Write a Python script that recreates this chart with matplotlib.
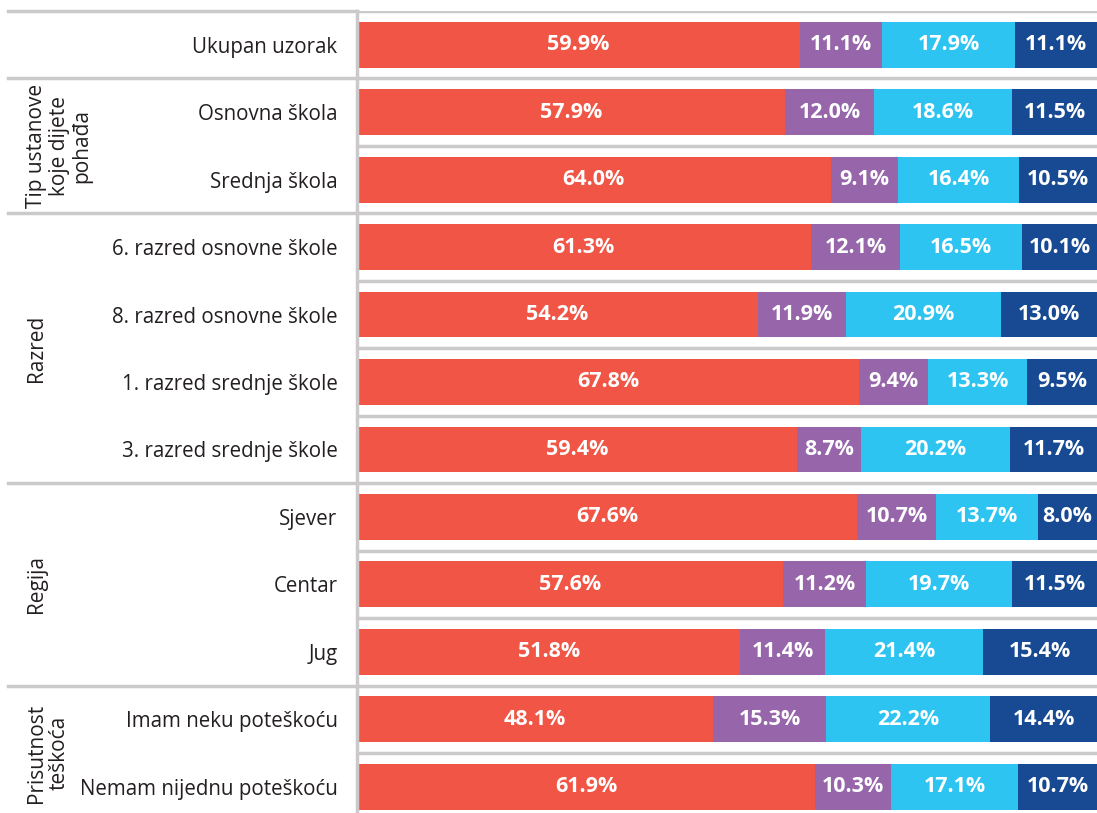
import matplotlib.pyplot as plt
from matplotlib.transforms import blended_transform_factory

plt.rcParams['font.family'] = ['Open Sans', 'DejaVu Sans']

categories = ['Ukupan uzorak', 'Osnovna škola', 'Srednja škola',
              '6. razred osnovne škole', '8. razred osnovne škole',
              '1. razred srednje škole', '3. razred srednje škole',
              'Sjever', 'Centar', 'Jug',
              'Imam neku poteškoću', 'Nemam nijednu poteškoću']
s1 = [59.9, 57.9, 64.0, 61.3, 54.2, 67.8, 59.4, 67.6, 57.6, 51.8, 48.1, 61.9]
s2 = [11.1, 12.0, 9.1, 12.1, 11.9, 9.4, 8.7, 10.7, 11.2, 11.4, 15.3, 10.3]
s3 = [17.9, 18.6, 16.4, 16.5, 20.9, 13.3, 20.2, 13.7, 19.7, 21.4, 22.2, 17.1]
s4 = [11.1, 11.5, 10.5, 10.1, 13.0, 9.5, 11.7, 8.0, 11.5, 15.4, 14.4, 10.7]
groups = [('Tip ustanove\nkoje dijete\npohađa', 1, 2),
          ('Razred', 3, 6),
          ('Regija', 7, 9),
          ('Prisutnost\nteškoća', 10, 11)]

colors = ['#F05545', '#9665AA', '#2EC4F1', '#174A93']
gray = '#CBC9C9'

W, H = 1097, 813
fig = plt.figure(figsize=(W / 100, H / 100), dpi=100)
ax = fig.add_axes([357 / W, 0, 1 - 357 / W, (H - 11) / H])

y = list(range(len(categories)))
left = [0] * len(categories)
for vals, c in zip([s1, s2, s3, s4], colors):
    bars = ax.barh(y, vals, left=left, height=0.68, color=c, zorder=2)
    for b, v in zip(bars, vals):
        ax.text(b.get_x() + b.get_width() / 2, b.get_y() + b.get_height() / 2,
                f'{v:.1f}%', ha='center', va='center', color='white',
                fontsize=15.5, fontweight='bold', zorder=3)
    left = [l + v for l, v in zip(left, vals)]

ax.set_xlim(0, 100)
ax.set_ylim(11.39, -0.5)
ax.set_yticks(y)
ax.set_yticklabels(categories, fontsize=14.8, color='#231F20')
ax.tick_params(axis='y', length=0, pad=14)
ax.set_xticks([])
for s in ['top', 'right', 'bottom']:
    ax.spines[s].set_visible(False)
ax.spines['left'].set_color(gray)
ax.spines['left'].set_linewidth(2.5)

# separators
trans = blended_transform_factory(fig.transFigure, ax.transData)
group_lines = [-0.5] + [g[2] + 0.5 for g in groups[:-1]] + [0.5]
for i in range(-1, len(categories) - 1):
    yy = i + 0.5
    ax.axhline(yy, color=gray, lw=2.5, zorder=1)
    if yy in group_lines:
        ax.plot([8 / W, 357 / W], [yy, yy], color=gray, lw=2.5,
                transform=trans, clip_on=False)

for label, a, b in groups:
    ax.text(26 / W, (a + b) / 2, label, transform=trans, rotation=90,
            ha='left', va='center', multialignment='center',
            fontsize=15, color='#231F20', linespacing=1.1)

fig.savefig('out.png', dpi=100)
